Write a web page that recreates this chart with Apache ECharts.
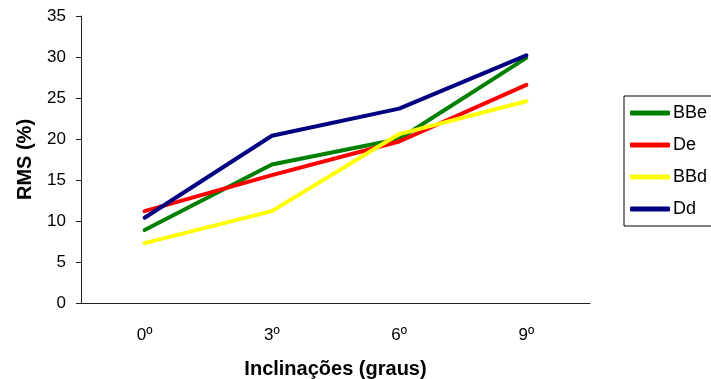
<!DOCTYPE html>
<html>
<head>
<meta charset="utf-8">
<script src="https://cdn.jsdelivr.net/npm/echarts@6/dist/echarts.min.js"></script>
<style>
  html, body { margin: 0; padding: 0; background: #fff; }
  #chart { width: 711px; height: 379px; }
</style>
</head>
<body>
<div id="chart"></div>
<script>
// categorias do eixo x
var inclinacoes = ["0º", "3º", "6º", "9º"];
// valores RMS (%) por série
var bbe = [8.9, 16.9, 20.0, 29.9];
var de = [11.2, 15.6, 19.7, 26.6];
var bbd = [7.3, 11.2, 20.6, 24.6];
var dd = [10.4, 20.4, 23.7, 30.2];

var chart = echarts.init(document.getElementById("chart"));

function linha(nome, dados, cor) {
  return {
    name: nome,
    type: "line",
    data: dados,
    symbol: "none",
    color: cor,
    lineStyle: { width: 4, color: cor, cap: "round", join: "round" },
  };
}

var option = {
  animation: false,
  textStyle: { fontFamily: "Liberation Sans, Arial, sans-serif", color: "#000" },
  grid: { left: 81, right: 121, top: 16, bottom: 76, containLabel: false, outerBoundsMode: "none" },
  legend: {
    orient: "vertical",
    left: 624,
    top: 96,
    padding: [8, 40, 8, 6],
    borderColor: "#000",
    borderWidth: 1,
    itemWidth: 40,
    itemHeight: 5,
    itemGap: 14,
    icon: "roundRect",
    textStyle: { fontSize: 18, lineHeight: 18, color: "#000", padding: [0, 0, 0, -2] },
    data: ["BBe", "De", "BBd", "Dd"],
  },
  xAxis: {
    type: "category",
    data: inclinacoes,
    boundaryGap: true,
    name: "Inclinações (graus)",
    nameLocation: "middle",
    nameGap: 56,
    nameTextStyle: { fontSize: 20, fontWeight: "bold", color: "#000" },
    axisLine: { lineStyle: { color: "#222" } },
    axisTick: { length: 5, lineStyle: { color: "#222" } },
    axisLabel: { fontSize: 17, color: "#000", margin: 24 },
  },
  yAxis: {
    type: "value",
    min: 0,
    max: 35,
    interval: 5,
    name: "RMS (%)",
    nameLocation: "middle",
    nameGap: 46,
    nameTextStyle: { fontSize: 20, fontWeight: "bold", color: "#000" },
    axisLine: { show: true, lineStyle: { color: "#222" } },
    axisTick: { show: true, length: 5, lineStyle: { color: "#222" } },
    axisLabel: { fontSize: 17, color: "#000", margin: 15 },
    splitLine: { show: false },
  },
  series: [
    linha("BBe", bbe, "#008000"),
    linha("De", de, "#ff0000"),
    linha("BBd", bbd, "#ffff00"),
    linha("Dd", dd, "#000080"),
  ],
};

chart.setOption(option);
</script>
</body>
</html>
